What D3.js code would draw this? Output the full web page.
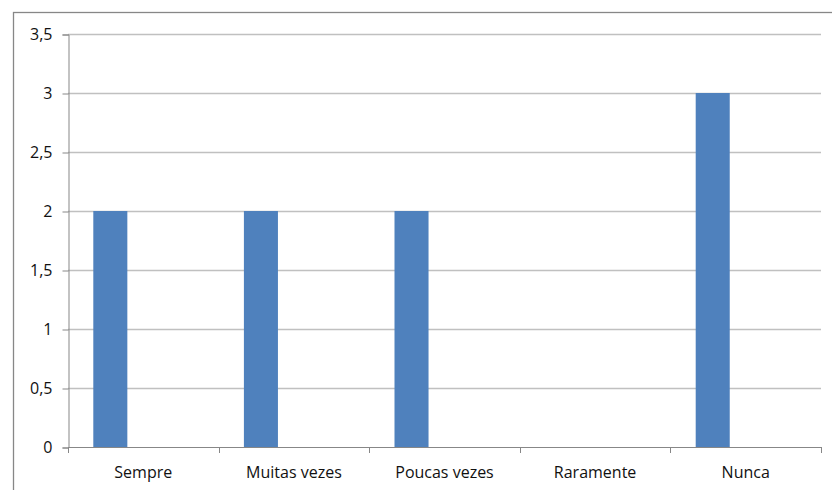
<!DOCTYPE html>
<html>
<head>
<meta charset="utf-8">
<script src="https://cdn.jsdelivr.net/npm/d3@7"></script>
<style>
  body { margin: 0; background: #fff; }
  svg { display: block; }
</style>
</head>
<body>
<div id="chart"></div>
<script>
// chart data
const categories = ["Sempre", "Muitas vezes", "Poucas vezes", "Raramente", "Nunca"];
const values = [2, 2, 2, 0, 3];
const yTicks = [0, 0.5, 1, 1.5, 2, 2.5, 3, 3.5];

const width = 832;
const height = 490;

const svg = d3.select("#chart")
    .append("svg")
    .attr("width", width)
    .attr("height", height);

// outer chart border (runs off the window on right and bottom)
svg.append("rect")
    .attr("x", 13.5)
    .attr("y", 12.5)
    .attr("width", 840)
    .attr("height", 500)
    .attr("fill", "none")
    .attr("stroke", "#878787")
    .attr("stroke-width", 1.3);

const plotLeft = 68, plotRight = 821, plotTop = 34, plotBottom = 447;

const xScale = d3.scaleBand()
    .domain(categories)
    .range([plotLeft, plotRight]);

const yScale = d3.scaleLinear()
    .domain([0, 3.5])
    .range([plotBottom, plotTop]);

// gridlines
svg.append("g")
    .selectAll("line")
    .data(yTicks.filter(d => d > 0))
    .enter()
    .append("line")
    .attr("x1", plotLeft)
    .attr("x2", plotRight)
    .attr("y1", d => Math.round(yScale(d)) + 0.5)
    .attr("y2", d => Math.round(yScale(d)) + 0.5)
    .attr("stroke", "#c0c0c0")
    .attr("stroke-width", 1.3);

// bars
const bw = xScale.bandwidth();
svg.append("g")
    .selectAll("rect")
    .data(values)
    .enter()
    .append("rect")
    .attr("x", (d, i) => xScale(categories[i]) + bw * 0.168)
    .attr("width", bw * 0.226)
    .attr("y", d => yScale(d))
    .attr("height", d => plotBottom - yScale(d))
    .attr("fill", "#4f81bd");

// y axis
const yAxis = d3.axisLeft(yScale)
    .tickValues(yTicks)
    .tickSize(6)
    .tickPadding(10)
    .tickFormat(d => String(d).replace(".", ","));

const yg = svg.append("g")
    .attr("transform", `translate(${plotLeft + 0.5},0.5)`)
    .call(yAxis);
yg.select(".domain").attr("stroke", "#878787");
yg.selectAll(".tick line").attr("stroke", "#878787");
yg.selectAll("text")
    .attr("font-family", "Open Sans, sans-serif")
    .attr("font-size", 16)
    .attr("fill", "#111");

// x axis: line plus ticks at category boundaries
const xg = svg.append("g");
xg.append("line")
    .attr("x1", plotLeft)
    .attr("x2", plotRight)
    .attr("y1", plotBottom + 0.5)
    .attr("y2", plotBottom + 0.5)
    .attr("stroke", "#878787")
    .attr("stroke-width", 1.2);
const bounds = categories.map(c => xScale(c)).concat([plotRight]);
xg.selectAll(".xt")
    .data(bounds)
    .enter()
    .append("line")
    .attr("x1", d => Math.round(d) + 0.5)
    .attr("x2", d => Math.round(d) + 0.5)
    .attr("y1", plotBottom)
    .attr("y2", plotBottom + 6)
    .attr("stroke", "#878787");
xg.selectAll("text")
    .data(categories)
    .enter()
    .append("text")
    .attr("x", d => xScale(d) + bw / 2)
    .attr("y", 478)
    .attr("text-anchor", "middle")
    .attr("font-family", "Open Sans, sans-serif")
    .attr("font-size", 16)
    .attr("fill", "#111")
    .text(d => d);
</script>
</body>
</html>
